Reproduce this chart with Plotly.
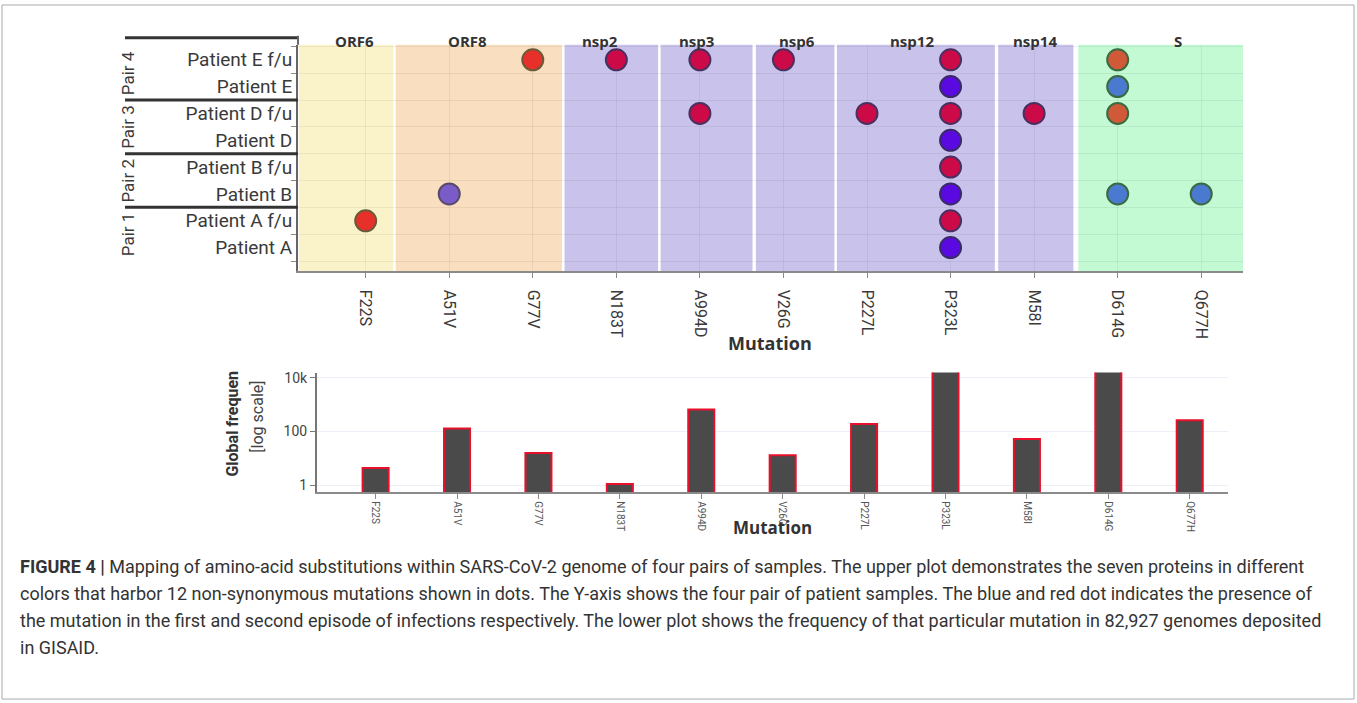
import plotly.graph_objects as go

# ---------------- data ----------------
mutations = ["F22S", "A51V", "G77V", "N183T", "A994D", "V26G", "P227L", "P323L", "M58I", "D614G", "Q677H"]
genes = ["ORF6", "ORF8", "ORF8", "nsp2", "nsp3", "nsp6", "nsp12", "nsp12", "nsp14", "S", "S"]
samples = ["Patient A", "Patient A f/u", "Patient B", "Patient B f/u",
           "Patient D", "Patient D f/u", "Patient E", "Patient E f/u"]
pairs = ["Pair 1", "Pair 2", "Pair 3", "Pair 4"]
# samples carrying each mutation
presence = {
    "F22S": ["Patient A f/u"],
    "A51V": ["Patient B"],
    "G77V": ["Patient E f/u"],
    "N183T": ["Patient E f/u"],
    "A994D": ["Patient E f/u", "Patient D f/u"],
    "V26G": ["Patient E f/u"],
    "P227L": ["Patient D f/u"],
    "P323L": ["Patient A", "Patient A f/u", "Patient B", "Patient B f/u",
              "Patient D", "Patient D f/u", "Patient E", "Patient E f/u"],
    "M58I": ["Patient D f/u"],
    "D614G": ["Patient B", "Patient D f/u", "Patient E", "Patient E f/u"],
    "Q677H": ["Patient B"],
}
global_freq = [4.4, 130, 16, 1.1, 660, 13, 190, 78000, 53, 79000, 265]
freq_tickvals = [1, 100, 10000]
freq_ticktext = ["1", "100", "10k"]

# ---------------- style ----------------
W, H = 1357, 703
def px(x):
    return x / W
def py(y):
    return 1 - y / H

gene_order = ["ORF6", "ORF8", "nsp2", "nsp3", "nsp6", "nsp12", "nsp14", "S"]
gene_fill = {"ORF6": "#faf3c9", "ORF8": "#f9dfc0", "nsp2": "#c9c3ec", "nsp3": "#c9c3ec",
             "nsp6": "#c9c3ec", "nsp12": "#c9c3ec", "nsp14": "#c9c3ec", "S": "#c3f9d3"}
# band edges and label positions (axis units)
gene_edges = {"ORF6": (-0.8, 0.33), "ORF8": (0.36, 2.35), "nsp2": (2.38, 3.5),
              "nsp3": (3.53, 4.63), "nsp6": (4.67, 5.61), "nsp12": (5.64, 7.53),
              "nsp14": (7.57, 8.47), "S": (8.53, 10.5)}
gene_label_x = {"ORF6": -0.13, "ORF8": 1.22, "nsp2": 2.81, "nsp3": 3.96, "nsp6": 5.16,
                "nsp12": 6.54, "nsp14": 8.01, "S": 9.72}
# apparent dot colour (fill, outline) per band, first episode / follow-up
dot_style = {
    "warm": {"first": ("#7a5cc8", "#5a4a6a"), "fu": ("#e8302a", "#6b5a3a")},
    "purple": {"first": ("#5a0ae0", "#3a2a6a"), "fu": ("#cc0a48", "#4a3060")},
    "green": {"first": ("#4a7ad0", "#3a6a40"), "fu": ("#d05a38", "#3a6a40")},
}
def band(g):
    if g in ("ORF6", "ORF8"):
        return "warm"
    if g == "S":
        return "green"
    return "purple"

fig = go.Figure()

# ---------------- upper dot plot ----------------
xs, ys, fills, lines = [], [], [], []
for m, g in zip(mutations, genes):
    for s in presence[m]:
        ep = "fu" if s.endswith("f/u") else "first"
        f, l = dot_style[band(g)][ep]
        xs.append(m); ys.append(s); fills.append(f); lines.append(l)

fig.add_trace(go.Scatter(
    x=xs, y=ys, mode="markers", xaxis="x", yaxis="y", showlegend=False,
    marker=dict(size=21, color=fills, line=dict(color=lines, width=2)),
    hoverinfo="x+y"))

# ---------------- lower bar plot ----------------
fig.add_trace(go.Bar(
    x=mutations, y=global_freq, xaxis="x2", yaxis="y2", showlegend=False,
    width=0.32, marker=dict(color="#4a4a4a", line=dict(color="#e8102a", width=2))))

ROB = "Roboto, sans-serif"
OS = "Open Sans, sans-serif"
fig.update_layout(
    width=W, height=H, margin=dict(l=0, r=0, t=0, b=0),
    paper_bgcolor="white", plot_bgcolor="rgba(0,0,0,0)",
    xaxis=dict(domain=[px(298), px(1243)], anchor="y", type="category",
               categoryorder="array", categoryarray=mutations, range=[-0.81, 10.5],
               showgrid=True, gridcolor="rgba(0,0,0,0.06)", gridwidth=1,
               showline=True, linecolor="#8a8a8a", linewidth=2,
               ticks="outside", ticklen=5, tickcolor="#8a8a8a", tickwidth=1,
               ticklabelstandoff=8,
               tickangle=90, tickfont=dict(family=ROB, size=16, color="#3a3a3a"), zeroline=False),
    yaxis=dict(domain=[py(270), py(42)], anchor="x", type="category",
               categoryorder="array", categoryarray=samples, range=[-0.89, 7.56],
               tickson="boundaries", showgrid=True, gridcolor="rgba(0,0,0,0.06)",
               showline=True, linecolor="#666", linewidth=2,
               ticks="outside", ticklen=5, tickcolor="#8a8a8a", tickwidth=1,
               tickfont=dict(family=ROB, size=19, color="#3a3a3a"), zeroline=False),
    xaxis2=dict(domain=[px(317), px(1228)], anchor="y2", type="category",
                categoryorder="array", categoryarray=mutations, range=[-0.72, 10.47],
                showgrid=False, showline=True, linecolor="#8a8a8a", linewidth=2,
                ticks="outside", ticklen=5, tickcolor="#8a8a8a", tickwidth=1,
                tickangle=90, tickfont=dict(family=ROB, size=10, color="#555")),
    yaxis2=dict(domain=[py(492), py(371.7)], anchor="x2", type="log", range=[-0.26, 4.2],
                tickvals=freq_tickvals, ticktext=freq_ticktext,
                showgrid=True, gridcolor="#eceff8", gridwidth=1,
                showline=True, linecolor="#777", linewidth=2,
                ticks="outside", ticklen=5, tickcolor="#777", tickwidth=1,
                tickfont=dict(family=ROB, size=14, color="#444"), zeroline=False),
    bargap=0.6,
)

shapes = []
for g in gene_order:
    x0, x1 = gene_edges[g]
    shapes.append(dict(type="rect", xref="x", yref="paper", x0=x0, x1=x1,
                       y0=py(270), y1=py(42), fillcolor=gene_fill[g], line=dict(width=0),
                       layer="below"))
# pair separators
for b in [1.5, 3.5, 5.5]:
    shapes.append(dict(type="line", xref="paper", yref="y", x0=px(125), x1=px(298),
                       y0=b, y1=b, line=dict(color="#333", width=3)))
shapes.append(dict(type="line", xref="paper", yref="paper", x0=px(125), x1=px(298),
                   y0=py(35), y1=py(35), line=dict(color="#333", width=3)))
shapes.append(dict(type="line", xref="paper", yref="paper", x0=px(298), x1=px(298),
                   y0=py(33), y1=py(42), line=dict(color="#666", width=2)))
# figure frame
shapes.append(dict(type="rect", xref="paper", yref="paper", x0=px(2), x1=px(1354),
                   y0=py(700), y1=py(2), line=dict(color="#aaa", width=1)))
fig.update_layout(shapes=shapes)

def note(x, y, text, size, family=ROB, color="#333", angle=0, xref="paper", yref="paper",
         xanchor="center"):
    return dict(x=x, y=y, xref=xref, yref=yref, text=text, textangle=angle,
                xanchor=xanchor, yanchor="middle", showarrow=False,
                font=dict(family=family, size=size, color=color))

ann = []
for g in gene_order:
    ann.append(note(gene_label_x[g], py(38), "<b>%s</b>" % g, 15, OS, xref="x"))
for i, p in enumerate(pairs):
    ann.append(note(px(128), 2 * i + 0.5, p, 17, ROB, "#3a3a3a", -90, yref="y"))
ann.append(note(px(770), py(342), "<b>Mutation</b>", 18, OS))
ann.append(note(px(772), py(528), "<b>Mutation</b>", 17, OS))
ann.append(note(px(233), py(423), "<b>Global frequen</b>", 16, ROB, angle=-90))
ann.append(note(px(258), py(416), "[log scale]", 16, ROB, "#444", -90))

caption = [
    "<b>FIGURE 4 |</b> Mapping of amino-acid substitutions within SARS-CoV-2 genome of four pairs of samples. The upper plot demonstrates the seven proteins in different",
    "colors that harbor 12 non-synonymous mutations shown in dots. The Y-axis shows the four pair of patient samples. The blue and red dot indicates the presence of",
    "the mutation in the first and second episode of infections respectively. The lower plot shows the frequency of that particular mutation in 82,927 genomes deposited",
    "in GISAID.",
]
for i, line in enumerate(caption):
    ann.append(note(px(18), py(567 + 27 * i), line, 18, ROB, "#333", xanchor="left"))
fig.update_layout(annotations=ann)

fig.write_html("out.html", config={"displayModeBar": False},
               post_script="document.body.style.margin='0';")
